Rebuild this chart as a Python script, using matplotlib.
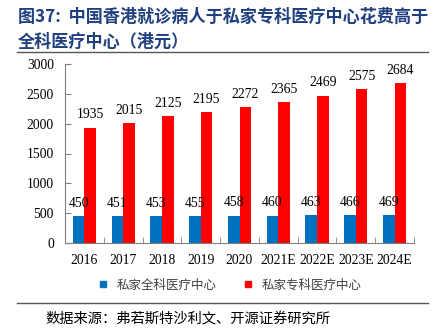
import matplotlib.pyplot as plt
from matplotlib.lines import Line2D
import numpy as np

# data
years = ['2016', '2017', '2018', '2019', '2020', '2021E', '2022E', '2023E', '2024E']
general = [450, 451, 453, 455, 458, 460, 463, 466, 469]
specialist = [1935, 2015, 2125, 2195, 2272, 2365, 2469, 2575, 2684]
series_names = ['私家全科医疗中心', '私家专科医疗中心']

title_1 = '图37:  中国香港就诊病人于私家专科医疗中心花费高于'
title_2 = '全科医疗中心（港元）'
source = '数据来源：弗若斯特沙利文、开源证券研究所'

blue = '#0070C0'
red = '#FF0000'
navy = '#1F3F7F'
axis_grey = '#808080'

cjk = ['Noto Sans CJK SC', 'DejaVu Sans']
serif = 'Liberation Serif'

fig = plt.figure(figsize=(4.41, 3.33), dpi=100)
ax = fig.add_axes([65/441, 1-243/333, (414-65)/441, (243-64)/333])

x = np.arange(len(years))
w = 0.3
b1 = ax.bar(x - w/2, general, w, color=blue)
b2 = ax.bar(x + w/2, specialist, w, color=red)

for bars, vals in ((b1, general), (b2, specialist)):
    for rect, v in zip(bars, vals):
        ax.annotate(str(v), (rect.get_x() + rect.get_width()/2, rect.get_height()),
                    xytext=(0, 4.5), textcoords='offset points',
                    ha='center', va='bottom', fontsize=9.8, family=serif)

ax.set_xlim(-0.5, len(years) - 0.5)
ax.set_ylim(0, 3000)
ax.set_yticks(range(0, 3001, 500))
ax.set_xticks(x)
ax.set_xticklabels(years, family=serif, fontsize=9.8)
ax.set_yticklabels([str(v) for v in range(0, 3001, 500)], family=serif, fontsize=9.8)
# ticks between categories on x axis
ax.set_xticks(np.arange(-0.5, len(years)), minor=True)
ax.tick_params(axis='x', which='major', length=0, pad=8)
ax.tick_params(axis='x', which='minor', direction='in', length=4, color=axis_grey)
ax.tick_params(axis='y', direction='in', length=4, color=axis_grey, pad=8)
for s in ('top', 'right'):
    ax.spines[s].set_visible(False)
for s in ('left', 'bottom'):
    ax.spines[s].set_color(axis_grey)

# legend
handles = [Line2D([], [], marker='s', linestyle='none', markersize=4.5, color=c) for c in (blue, red)]
fig.legend(handles, series_names, loc='center', bbox_to_anchor=(226/441, 1-285/333),
           ncol=2, frameon=False, handletextpad=0.1, columnspacing=1.5,
           prop={'family': cjk, 'size': 9}, labelcolor='#404040')

# title and source
fig.text(18/441, 1-17/333, title_1, family=cjk, weight='bold', fontsize=12.3,
         color=navy, va='center', ha='left')
fig.text(18/441, 1-42/333, title_2, family=cjk, weight='bold', fontsize=12.3,
         color=navy, va='center', ha='left')
fig.add_artist(Line2D([17/441, 428/441], [1-52/333, 1-52/333], color='#555555', lw=1))
fig.add_artist(Line2D([17/441, 428/441], [1-303/333, 1-303/333], color='#555555', lw=1))
fig.text(45/441, 1-319/333, source, family=cjk, fontsize=10.3, va='center', ha='left')

fig.savefig('out.png', dpi=100)
